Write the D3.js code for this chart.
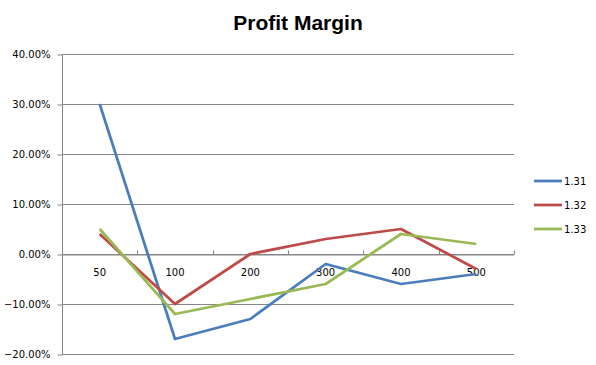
<!DOCTYPE html>
<html>
<head>
<meta charset="utf-8">
<script src="https://cdn.jsdelivr.net/npm/d3@7"></script>
<style>
  body { margin: 0; background: #fff; }
  text { font-family: "DejaVu Sans", sans-serif; font-size: 10px; fill: #000; }
</style>
</head>
<body>
<svg id="canvas"></svg>
<script>
let categories = ["50", "100", "200", "300", "400", "500"];
let seriesNames = ["1.31", "1.32", "1.33"];
let s131 = [0.30, -0.17, -0.13, -0.02, -0.06, -0.04];
let s132 = [0.04, -0.10, 0.00, 0.03, 0.05, -0.03];
let s133 = [0.05, -0.12, -0.09, -0.06, 0.04, 0.02];
let yTicks = [-0.2, -0.1, 0, 0.1, 0.2, 0.3, 0.4];
let colors = ["#4A7EBB", "#BE4B48", "#98B954"];

let width = 596;
let height = 365;
let plotLeft = 62, plotRight = 514, plotTop = 54, plotBottom = 354;

let canvas = d3.select("#canvas");
canvas.attr("width", width).attr("height", height);

let xScale = d3.scaleBand().domain(categories).range([plotLeft, plotRight]).padding(0);
let yScale = d3.scaleLinear().domain([-0.2, 0.4]).range([plotBottom, plotTop]);

// title
canvas.append("text")
  .attr("x", 298).attr("y", 30)
  .attr("text-anchor", "middle")
  .style("font-family", "'Liberation Sans', Arial, sans-serif")
  .style("font-size", "21px")
  .style("font-weight", "bold")
  .text("Profit Margin");

// gridlines
canvas.append("g")
  .selectAll("line")
  .data(yTicks)
  .enter()
  .append("line")
  .attr("x1", plotLeft).attr("x2", plotRight)
  .attr("y1", (d) => Math.round(yScale(d)) + 0.5)
  .attr("y2", (d) => Math.round(yScale(d)) + 0.5)
  .attr("stroke", "#868686");

// y axis
let yAxis = d3.axisLeft(yScale)
  .tickValues(yTicks)
  .tickFormat(d3.format(".2%"))
  .tickSize(5)
  .tickPadding(7);
let yg = canvas.append("g")
  .attr("transform", "translate(" + (plotLeft + 0.5) + ", 0.5)")
  .call(yAxis);
yg.selectAll("path, line").attr("stroke", "#868686");
yg.select(".domain").attr("d", "M0," + (plotTop - 0.5) + "V" + (plotBottom - 0.5));
yg.selectAll("text").style("font-family", "'DejaVu Sans', sans-serif").style("font-size", "10px").attr("fill", "#000");

// x axis at zero
let zeroY = Math.round(yScale(0)) + 0.5;
let xAxis = d3.axisBottom(xScale).tickSize(0).tickPadding(14);
let xg = canvas.append("g")
  .attr("transform", "translate(0, " + zeroY + ")")
  .call(xAxis);
xg.select(".domain").attr("stroke", "#868686");
xg.selectAll("text").style("font-family", "'DejaVu Sans', sans-serif").style("font-size", "10px").attr("fill", "#000");

// category boundary ticks
let bounds = categories.map((c) => xScale(c)).slice(1).concat([plotRight]);
canvas.append("g")
  .selectAll("line")
  .data(bounds)
  .enter()
  .append("line")
  .attr("x1", (d) => Math.round(d) + 0.5)
  .attr("x2", (d) => Math.round(d) + 0.5)
  .attr("y1", zeroY - 4)
  .attr("y2", zeroY)
  .attr("stroke", "#868686");

// lines
let allSeries = [s131, s132, s133];
let line = d3.line()
  .x((d, i) => xScale(categories[i]) + xScale.bandwidth() / 2)
  .y((d) => yScale(d));

canvas.append("g")
  .selectAll("path")
  .data(allSeries)
  .enter()
  .append("path")
  .attr("d", (d) => line(d))
  .attr("fill", "none")
  .attr("stroke", (d, i) => colors[i])
  .attr("stroke-width", 2.75)
  .attr("stroke-linejoin", "round");

// legend
let legend = canvas.append("g")
  .selectAll("g")
  .data(seriesNames)
  .enter()
  .append("g")
  .attr("transform", (d, i) => "translate(534, " + (181 + i * 24) + ")");
legend.append("line")
  .attr("x1", 0).attr("x2", 28)
  .attr("stroke", (d, i) => colors[i])
  .attr("stroke-width", 2.75);
legend.append("text")
  .attr("x", 30).attr("y", 4)
  .text((d) => d);
</script>
</body>
</html>
